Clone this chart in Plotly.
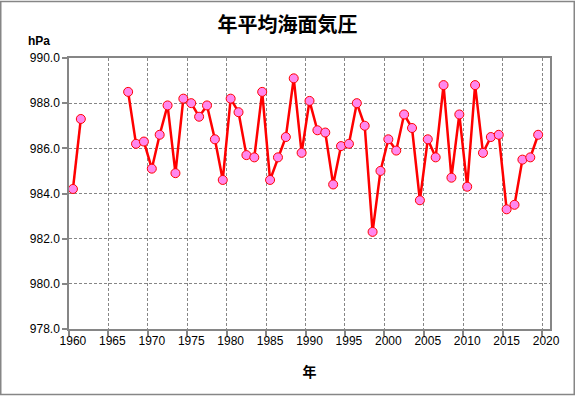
import plotly.graph_objects as go

years = list(range(1960, 2020))
pressure = [984.2, 987.3, None, None, None, None, None, 988.5, 986.2, 986.3,
            985.1, 986.6, 987.9, 984.9, 988.2, 988.0, 987.4, 987.9, 986.4, 984.6,
            988.2, 987.6, 985.7, 985.6, 988.5, 984.6, 985.6, 986.5, 989.1, 985.8,
            988.1, 986.8, 986.7, 984.4, 986.1, 986.2, 988.0, 987.0, 982.3, 985.0,
            986.4, 985.9, 987.5, 986.9, 983.7, 986.4, 985.6, 988.8, 984.7, 987.5,
            984.3, 988.8, 985.8, 986.5, 986.6, 983.3, 983.5, 985.5, 985.6, 986.6]
xtick_vals = list(range(1960, 2021, 5))
xtick_text = [str(v) for v in xtick_vals]
ytick_vals = [978, 980, 982, 984, 986, 988, 990]

W, H = 575, 396
L, R, T, B = 69, 550, 57.5, 329.5
pw, ph = R - L, B - T

fig = go.Figure()
fig.add_trace(go.Scatter(
    x=years, y=pressure, mode="lines+markers", connectgaps=False,
    line=dict(color="#FF0000", width=2.5),
    marker=dict(size=9, color="#FF88EE", line=dict(color="#FF0000", width=1)),
    showlegend=False, hoverinfo="x+y"))

tick_font = dict(family="Liberation Sans, Arial, sans-serif", size=12, color="#000000")
fig.update_layout(
    width=W, height=H,
    margin=dict(l=L, r=W - R, t=T, b=H - B, pad=0),
    paper_bgcolor="white", plot_bgcolor="white",
    title=dict(text="<b>年平均海面気圧</b>", x=0.5, xanchor="center", y=1 - 25 / H, yanchor="middle",
               font=dict(family="Noto Sans CJK JP", size=20, color="#000000")),
    xaxis=dict(range=[1959.5, 2020.5], tickmode="array", tickvals=xtick_vals, ticktext=xtick_text,
               ticks="", showgrid=False, zeroline=False,
               showline=True, linecolor="#868686", linewidth=1.5, mirror=True,
               tickfont=tick_font,
               minor=dict(tickmode="linear", tick0=1959.5, dtick=5, ticks="outside", ticklen=5,
                          tickcolor="#868686", tickwidth=1.5,
                          showgrid=True, gridcolor="#868686", griddash="3px,2px", gridwidth=1),
               title=dict(text="<b>年</b>", font=dict(family="Noto Sans CJK JP", size=14, color="#000"),
                          standoff=20)),
    yaxis=dict(range=[978, 990], tickmode="array", tickvals=ytick_vals,
               ticktext=[f"{v:.1f}" for v in ytick_vals],
               ticks="outside", ticklen=5, tickcolor="#868686", tickwidth=1.5,
               showgrid=True, gridcolor="#868686", griddash="3px,2px", gridwidth=1,
               zeroline=False, showline=True, linecolor="#868686", linewidth=1.5, mirror=True,
               tickfont=tick_font),
    annotations=[dict(text="<b>hPa</b>", x=(39 - L) / pw, y=(B - 40) / ph, xref="paper", yref="paper",
                      showarrow=False, xanchor="center", yanchor="middle",
                      font=dict(family="Liberation Sans, Arial, sans-serif", size=12, color="#000"))],
    shapes=[dict(type="rect", xref="paper", yref="paper",
                 x0=(0.75 - L) / pw, x1=(W - 0.75 - L) / pw,
                 y0=(B - (H - 0.75)) / ph, y1=(B - 0.75) / ph,
                 line=dict(color="#868686", width=1.5), layer="below")],
)

fig.write_html("out.html", config={"displayModeBar": False},
               post_script="document.body.style.margin='0';document.body.style.padding='0';")
